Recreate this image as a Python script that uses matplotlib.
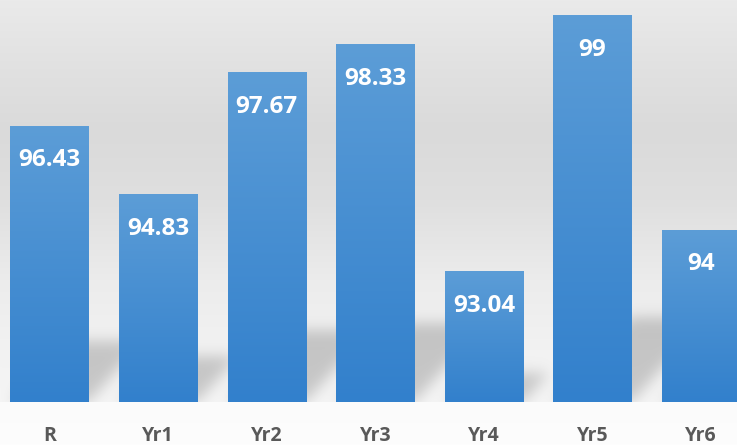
import numpy as np
import matplotlib
matplotlib.use('Agg')
import matplotlib.pyplot as plt
from matplotlib.path import Path

# ---- data ----
categories = ['R', 'Yr1', 'Yr2', 'Yr3', 'Yr4', 'Yr5', 'Yr6']
values = [96.43, 94.83, 97.67, 98.33, 93.04, 99, 94]
value_labels = ['96.43', '94.83', '97.67', '98.33', '93.04', '99', '94']

W, H, DPI = 737, 445, 100
BASE_ROW = 402          # pixel row of the axis baseline
FONT = ['Open Sans', 'DejaVu Sans']

fig = plt.figure(figsize=(W / DPI, H / DPI), dpi=DPI)
bg = fig.add_axes([0, 0, 1, 1], zorder=0)
ax = fig.add_axes([0, 1 - BASE_ROW / H, 1, BASE_ROW / H], zorder=1)
ax.patch.set_alpha(0)

ymin, ymax = 90, 99.37
ax.set_ylim(ymin, ymax)
ax.set_xlim(-0.456, 6.33)
xpos = np.arange(len(categories))
bw = 0.72

bars = ax.bar(xpos, [v - ymin for v in values], bottom=ymin, width=bw,
              color='none', edgecolor='none', zorder=2)

# gradient fill of each bar
top_c = np.array([92, 157, 215]) / 255
bot_c = np.array([50, 128, 204]) / 255
t = np.linspace(0, 1, 256)[:, None]
grad = (top_c[None, :] * (1 - t) + bot_c[None, :] * t)[:, None, :]
for b in bars:
    x0 = b.get_x()
    ax.imshow(grad, extent=(x0, x0 + b.get_width(), b.get_y(), b.get_y() + b.get_height()),
              aspect='auto', zorder=2, interpolation='bilinear')
ax.set_xlim(-0.456, 6.33)
ax.set_ylim(ymin, ymax)

# ---- background with soft floor shadows ----
rows = np.arange(H)
ky = [0, 60, 130, 200, 280, 350, 401, 402, 444]
kv = [234, 226, 218, 223, 236, 242, 245, 251, 253]
col = np.interp(rows, ky, kv).astype(float)
img = np.repeat(col[:, None], W, axis=1)

shadow = np.zeros((H, W))
yy, xx = np.mgrid[0:H, 0:W]
pts = np.column_stack([xx.ravel() + 0.5, yy.ravel() + 0.5])
fig.canvas.draw()
for b in bars:
    (px0, py0) = ax.transData.transform((b.get_x(), b.get_y()))
    (px1, py1) = ax.transData.transform((b.get_x() + b.get_width(), b.get_y() + b.get_height()))
    hp = py1 - py0
    sh = 0.22 * hp
    dx = 0.9 * sh
    base = H - py0
    poly = Path([(px0, base), (px1, base), (px1 + dx, base - sh), (px0 + dx, base - sh)])
    m = poly.contains_points(pts).reshape(H, W)
    shadow = np.maximum(shadow, m.astype(float))

def blur1d(a, sigma, axis):
    r = int(3 * sigma)
    k = np.exp(-0.5 * (np.arange(-r, r + 1) / sigma) ** 2)
    k /= k.sum()
    return np.apply_along_axis(lambda v: np.convolve(v, k, mode='same'), axis, a)

shadow = blur1d(blur1d(shadow, 7, 0), 7, 1)
shadow[BASE_ROW:, :] = 0
img = img - 45 * shadow
img = np.clip(img, 0, 255) / 255
bg.imshow(np.dstack([img, img, img]), extent=(0, W, H, 0), aspect='auto', interpolation='bilinear')
bg.set_xlim(0, W)
bg.set_ylim(H, 0)
bg.axis('off')

# ---- text ----
for xi, v, lab in zip(xpos, values, value_labels):
    ax.annotate(lab, (xi, v), xytext=(0, -34), textcoords='offset pixels',
                ha='center', va='center', color='white', fontsize=17.5,
                fontweight='bold', family=FONT, zorder=3)

ax.set_xticks(xpos)
ax.set_xticklabels(categories, fontsize=14, fontweight='bold', color='#595959', family=FONT)
ax.tick_params(axis='x', length=0, pad=17)
ax.set_yticks([])
for s in ax.spines.values():
    s.set_visible(False)

fig.savefig('out.png', dpi=DPI)
